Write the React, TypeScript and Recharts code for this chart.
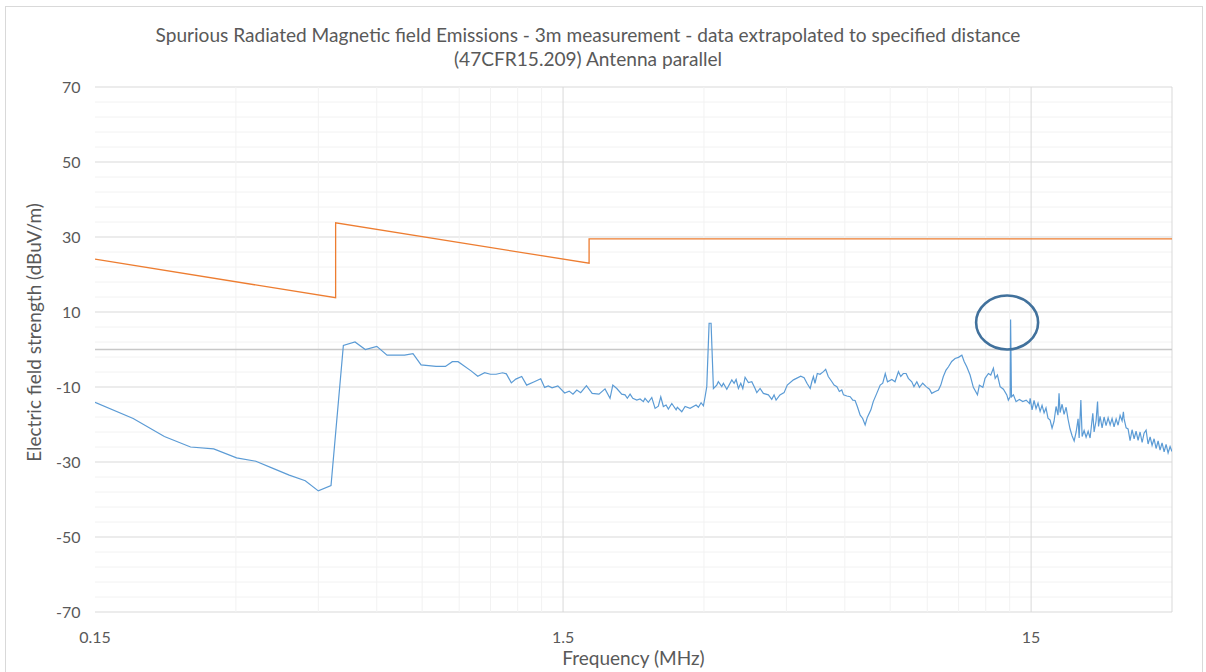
import {
  LineChart,
  Line,
  XAxis,
  YAxis,
  CartesianGrid,
  ReferenceLine,
  ReferenceDot,
  Label
} from "recharts";

// FCC 15.209 limit, extrapolated (MHz, dBuV/m)
const limitFreq = [0.15, 0.49, 0.49, 1.705, 1.705, 30];
const limitLevel = [24.1, 13.8, 33.8, 23.0, 29.5, 29.5];

// measured emission, antenna parallel (MHz)
const measFreq = [
  0.15, 0.181, 0.211, 0.24, 0.269, 0.301, 0.331, 0.36, 0.39, 0.422, 0.45, 0.479,
  0.509, 0.539, 0.567, 0.6, 0.631, 0.688, 0.717, 0.746, 0.803, 0.841, 0.87, 0.895,
  0.954, 0.986, 1.02, 1.049, 1.079, 1.114, 1.135, 1.163, 1.189, 1.224, 1.254, 1.302,
  1.344, 1.37, 1.395, 1.421, 1.462, 1.512, 1.546, 1.575, 1.605, 1.636, 1.683, 1.731,
  1.79, 1.844, 1.89, 1.916, 1.954, 2.002, 2.035, 2.058, 2.086, 2.114, 2.156, 2.191,
  2.227, 2.245, 2.282, 2.321, 2.359, 2.397, 2.426, 2.457, 2.49, 2.518, 2.561, 2.616,
  2.632, 2.69, 2.734, 2.802, 2.886, 2.919, 2.958, 2.992, 3.017, 3.042, 3.077, 3.107,
  3.143, 3.195, 3.22, 3.275, 3.301, 3.357, 3.441, 3.48, 3.514, 3.554, 3.596, 3.632,
  3.673, 3.733, 3.796, 3.858, 3.891, 3.954, 4.019, 4.119, 4.188, 4.236, 4.278,
  4.36, 4.45, 4.52, 4.66, 4.83, 4.91, 4.98, 5.06, 5.1, 5.14, 5.18, 5.24, 5.31, 5.4,
  5.46, 5.53, 5.63, 5.69, 5.77, 5.84, 5.91, 5.96, 6.06, 6.16, 6.24, 6.31, 6.38, 6.47,
  6.55, 6.63, 6.7, 6.82, 6.9, 7.02, 7.14, 7.23, 7.32, 7.4, 7.56, 7.68, 7.81, 7.9, 8.0,
  8.11, 8.2, 8.34, 8.43, 8.55, 8.66, 8.8, 8.95, 9.1, 9.2, 9.36, 9.51, 9.62, 9.74,
  9.87, 9.99, 10.15, 10.32, 10.49, 10.67, 10.79, 10.93, 11.11, 11.29, 11.52, 11.63,
  11.83, 11.96, 12.16, 12.3, 12.46, 12.57, 12.71, 12.88, 13.09, 13.31, 13.41, 13.53,
  13.56, 13.62, 13.75, 13.93, 14.16, 14.4, 14.64, 14.88,
  14.93, 15.07, 15.22, 15.37, 15.52, 15.68, 15.83, 15.99, 16.14, 16.3,
  16.47, 16.63, 16.79, 16.96, 17.12, 17.21, 17.3, 17.47, 17.64, 17.82,
  17.99, 18.17, 18.35, 18.54, 18.72, 18.9, 19.0, 19.16, 19.28, 19.47,
  19.66, 19.86, 20.05, 20.32, 20.45, 20.65, 20.8, 20.9, 21.06, 21.27,
  21.48, 21.69, 21.91, 22.13, 22.34, 22.56, 22.79, 23.01, 23.24, 23.47,
  23.62, 23.7, 23.94, 24.17, 24.41, 24.65, 24.9, 25.14, 25.39, 25.64,
  25.9, 26.15, 26.41, 26.67, 26.94, 27.2, 27.47, 27.74, 28.02, 28.29,
  28.57, 28.86, 29.14, 29.43, 29.72, 30
];
const measLevel = [
  -14.1, -18.4, -23.2, -26.0, -26.5, -28.9, -29.8, -31.7, -33.5, -35.0, -37.7, -36.3,
  1.1, 2.0, 0.0, 0.85, -1.5, -1.5, -1.1, -4.1, -4.5, -4.5, -3.25, -3.25,
  -5.7, -7.15, -6.2, -6.6, -6.6, -6.2, -6.5, -8.9, -7.9, -7.2, -9.5, -8.6,
  -7.8, -10.1, -9.7, -10.2, -9.7, -11.6, -11.1, -11.9, -10.8, -11.5, -9.65, -11.7,
  -11.9, -10.5, -13.0, -9.5, -10.4, -11.9, -12.1, -13.0, -11.9, -13.0, -13.5, -13.2,
  -13.9, -13.0, -14.1, -12.8, -15.7, -15.1, -12.6, -15.2, -14.8, -15.9, -14.4, -16.1,
  -15.4, -16.6, -15.2, -15.7, -14.8, -15.4, -14.2, -15.0, -12.6, -9.9, 7.0, 7.0,
  -10.4, -9.5, -8.6, -9.9, -9.0, -10.6, -8.1, -9.0, -8.0, -10.4, -9.0, -10.4,
  -7.4, -8.8, -8.6, -10.4, -11.5, -10.4, -11.7, -12.1, -13.3, -12.1, -13.5,
  -12.1, -11.5, -9.5, -8.1, -7.1, -7.5, -9.0, -10.4, -8.6, -7.2, -9.0, -6.4, -6.6, -5.9,
  -5.3, -7.2, -8.6, -9.5, -9.9, -11.2, -10.8, -12.1, -12.4, -12.6, -13.5, -13.6, -15.2, -17.5,
  -18.4, -20.1, -18.1, -16.1, -13.9, -11.7, -9.5, -9.0, -6.4, -8.6, -8.0, -8.6, -5.9, -7.2, -6.4,
  -6.4, -7.7, -8.6, -9.9, -8.6, -10.1, -9.0, -9.9, -10.6, -11.7, -11.2, -10.8, -9.5, -7.2,
  -5.5, -4.6, -3.2, -2.4, -2.1, -1.5, -3.2, -4.6, -6.8, -10.1, -12.1, -9.5,
  -10.1, -7.7, -6.4, -6.8, -5.0, -7.7, -6.8, -9.9, -10.6, -12.1, -13.5, -12.6,
  8.0, -12.6, -12.1, -13.9, -13.3, -13.9, -13.5, -14.4,
  -13.0, -16.1, -13.6, -15.8, -14.3, -16.5, -14.9, -16.9, -15.6, -18.3,
  -18.8, -21.0, -19.2, -15.2, -17.5, -11.7, -16.8, -14.6, -17.3, -15.4,
  -18.6, -21.2, -23.0, -24.4, -22.0, -18.5, -23.6, -13.5, -23.2, -21.6,
  -23.4, -21.8, -23.6, -17.0, -22.0, -19.0, -13.9, -20.5, -17.8, -20.9,
  -18.0, -20.3, -18.2, -20.1, -18.4, -20.6, -18.5, -20.2, -17.6, -19.0,
  -16.6, -18.5, -20.9, -21.2, -24.3, -21.4, -23.8, -21.8, -24.2, -22.0,
  -24.8, -22.3, -21.5, -25.2, -23.3, -25.6, -23.8, -26.4, -24.4, -26.8,
  -24.9, -27.3, -25.3, -27.6, -25.9, -27.2
];

const xTicks = [0.15, 1.5, 15];
const yTicks = [-70, -50, -30, -10, 10, 30, 50, 70];
const xMajorGrid = [1.5, 15, 30];
const xMinorGrid = [0.3, 0.45, 0.6, 0.75, 0.9, 1.05, 1.2, 1.35, 3, 4.5, 6, 7.5, 9, 10.5, 12, 13.5];
const yMinorGrid = [
  66, 62, 58, 54, 46, 42, 38, 34, 26, 22, 18, 14, 6, 2,
  -2, -6, -14, -18, -22, -26, -34, -38, -42, -46, -54, -58, -62, -66
];

// circled spike (13.56 MHz)
const markFreq = 13.33;
const markLevel = 7.2;

const limitData = limitFreq.map((f, i) => ({ f, v: limitLevel[i] }));
const measData = measFreq.map((f, i) => ({ f, v: measLevel[i] }));

const FONT = "Lato, 'Open Sans', sans-serif";
const TEXT = "#595959";

const YTitle = ({ viewBox }: any) => {
  const cx = viewBox.x + 41;
  const cy = viewBox.y + viewBox.height / 2 - 17;
  return (
    <text
      x={cx}
      y={cy}
      transform={`rotate(-90, ${cx}, ${cy})`}
      textAnchor="middle"
      fill={TEXT}
      fontSize={19}
      fontFamily={FONT}
    >
      Electric field strength (dBuV/m)
    </text>
  );
};

export default function App() {
  return (
    <div
      style={{
        position: "fixed",
        left: 0,
        top: 0,
        width: 1206,
        height: 672,
        overflow: "hidden",
        background: "#fff",
        fontFamily: FONT
      }}
    >
      <div
        style={{
          position: "absolute",
          left: 5,
          top: 6,
          width: 1198,
          height: 700,
          border: "1px solid #d9d9d9",
          boxSizing: "border-box"
        }}
      />
      <svg
        width={1206}
        height={80}
        style={{ position: "absolute", left: 0, top: 0 }}
      >
        <text x={588} y={41.7} textAnchor="middle" fill={TEXT} fontSize={19.1} fontFamily={FONT}>
          Spurious Radiated Magnetic field Emissions - 3m measurement - data extrapolated to specified distance
        </text>
        <text x={588} y={66.3} textAnchor="middle" fill={TEXT} fontSize={19.1} fontFamily={FONT}>
          (47CFR15.209) Antenna parallel
        </text>
      </svg>
      <LineChart
        width={1206}
        height={672}
        margin={{ top: 87, right: 34, bottom: 30, left: 0 }}
        style={{ position: "absolute", left: 0, top: 0 }}
      >
        {yMinorGrid.map((v) => (
          <ReferenceLine key={`ym${v}`} y={v} stroke="#f2f2f2" strokeWidth={1} />
        ))}
        {xMinorGrid.map((v) => (
          <ReferenceLine key={`xm${v}`} x={v} stroke="#f2f2f2" strokeWidth={1} />
        ))}
        <CartesianGrid vertical={false} stroke="#d9d9d9" />
        {xMajorGrid.map((v) => (
          <ReferenceLine key={`xM${v}`} x={v} stroke="#d9d9d9" strokeWidth={1} />
        ))}
        <ReferenceLine y={0} stroke="#c8c8c8" strokeWidth={1.3} />
        <XAxis
          type="number"
          dataKey="f"
          scale="log"
          domain={[0.15, 30]}
          ticks={xTicks}
          interval={0}
          allowDataOverflow
          axisLine={false}
          tickLine={false}
          tickSize={0}
          tickMargin={20}
          height={30}
          tick={{ fill: TEXT, fontSize: 16, fontFamily: FONT }}
          tickFormatter={(v: number) => String(v)}
        >
          <Label
            value="Frequency (MHz)"
            position="insideBottom"
            offset={-23}
            fill={TEXT}
            fontSize={19}
            fontFamily={FONT}
          />
        </XAxis>
        <YAxis
          type="number"
          domain={[-70, 70]}
          ticks={yTicks}
          interval={0}
          width={95}
          axisLine={false}
          tickLine={false}
          tickSize={0}
          tickMargin={14.5}
          tick={{ fill: TEXT, fontSize: 16, fontFamily: FONT }}
        >
          <Label content={<YTitle />} />
        </YAxis>
        <Line
          data={limitData}
          dataKey="v"
          type="linear"
          stroke="#ed7d31"
          strokeWidth={1.3}
          dot={false}
          isAnimationActive={false}
        />
        <Line
          data={measData}
          dataKey="v"
          type="linear"
          stroke="#5b9bd5"
          strokeWidth={1.2}
          dot={false}
          isAnimationActive={false}
        />
        <ReferenceDot
          x={markFreq}
          y={markLevel}
          r={31}
          shape={(p: any) => (
            <ellipse
              cx={p.cx}
              cy={p.cy}
              rx={31}
              ry={27}
              fill="none"
              stroke="#41719c"
              strokeWidth={2.6}
            />
          )}
        />
      </LineChart>
    </div>
  );
}
